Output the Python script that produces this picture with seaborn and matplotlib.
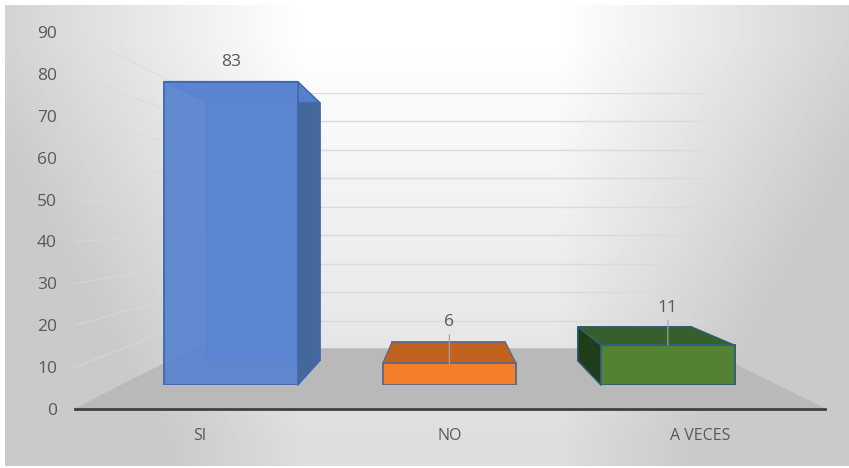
import numpy as np
import pandas as pd
import matplotlib
matplotlib.use("Agg")
import matplotlib.pyplot as plt
import seaborn as sns
from matplotlib.patches import Polygon
from matplotlib.transforms import IdentityTransform

respuestas = ["SI", "NO", "A VECES"]
valores = [83, 6, 11]
ticks_y = [0, 10, 20, 30, 40, 50, 60, 70, 80, 90]

colores_frente = ["#5b85d0", "#f37f2d", "#548235"]
colores_arriba = ["#5580ca", "#c2621f", "#375f2b"]
colores_lado = ["#44679c", "#a3521a", "#1f3d18"]
colores_borde = ["#4169b0", "#5f6a85", "#2f5f78"]
opacidad = [0.95, 1, 1]

W, H = 849, 468
VX, VY = 445, 222
L, R, T, B = 75, 825, 32, 409
ESC_PARED = 0.679
ESC_FRENTE = 0.874
ESC_FONDO = ESC_FRENTE * 0.85
TEXTO = "#595959"

sns.set_style("white")
plt.rcParams["font.family"] = ["Open Sans", "DejaVu Sans"]

df = pd.DataFrame({"respuesta": respuestas, "valor": valores})
fig = plt.figure(figsize=(W / 100, H / 100), dpi=100)
fig.patch.set_facecolor("white")


def plano(escala, zorder):
    # same axes, scaled towards the vanishing point of the 3D view
    l = VX + escala * (L - VX)
    r = VX + escala * (R - VX)
    t = VY + escala * (T - VY)
    b = VY + escala * (B - VY)
    ax = fig.add_axes([l / W, 1 - b / H, (r - l) / W, (b - t) / H], zorder=zorder)
    ax.patch.set_visible(False)
    return ax


def ajustar(ax):
    ax.set_xlim(-0.5, 2.5)
    ax.set_ylim(0, 90)
    ax.set_xlabel("")
    ax.set_ylabel("")


def cara(puntos, color, zorder, borde=None):
    fig.add_artist(Polygon(puntos, closed=True, facecolor=color, edgecolor=borde or color,
                           linewidth=1, transform=IdentityTransform(), zorder=zorder))


# background gradient
fondo = fig.add_axes([5 / W, 2 / H, (W - 5) / W, (H - 7) / H], zorder=0)
xx, yy = np.meshgrid(np.arange(5, W), np.arange(5, 466))
dx = np.abs(xx - 430) / 420
gris = 1 - 0.17 * np.clip((dx - 0.3) / 0.7, 0, 1) - 0.13 * np.clip((yy - 40) / 400, 0, 1)
fondo.imshow(np.maximum(gris, 0.79), cmap="gray", vmin=0, vmax=1, aspect="auto")
fondo.axis("off")

# back wall with gridlines
pared = plano(ESC_PARED, 1)
ajustar(pared)
pared.set_yticks(ticks_y)
pared.set_xticks([])
pared.tick_params(left=False, labelleft=False)
pared.grid(axis="y", color="#dadada", linewidth=1)
sns.despine(ax=pared, left=True, bottom=True)

# main axes, the plane of the tick labels
ax = plano(1, 8)
sns.barplot(data=df, x="respuesta", y="valor", color="white", alpha=0, width=0.61, ax=ax)
ajustar(ax)
ax.set_yticks(ticks_y)
ax.tick_params(axis="both", length=0, labelsize=12.5, labelcolor=TEXTO)
ax.tick_params(axis="y", pad=13)
ax.tick_params(axis="x", pad=13.5, labelsize=11.5)
sns.despine(ax=ax, left=True)
ax.spines["bottom"].set_color("#404040")
ax.spines["bottom"].set_linewidth(2)

fig.canvas.draw()

# left wall lines and floor
for t in ticks_y[1:]:
    p0 = ax.transData.transform((-0.5, t))
    p1 = pared.transData.transform((-0.5, t))
    fig.add_artist(plt.Line2D([p0[0], p1[0]], [p0[1], p1[1]], color="#dadada", linewidth=1, alpha=0.6,
                              transform=IdentityTransform(), zorder=1.5))

suelo = [ax.transData.transform((-0.5, 0)), ax.transData.transform((2.5, 0)),
         pared.transData.transform((2.5, 0)), pared.transData.transform((-0.5, 0))]
cara(suelo, "#b9b9b9", 2)

# back faces of the bars
atras = plano(ESC_FONDO, 3)
sns.barplot(data=df, x="respuesta", y="valor", hue="respuesta", palette=colores_frente, saturation=1,
            width=0.61, legend=False, ax=atras)
ajustar(atras)
atras.axis("off")

# front faces of the bars
frente = plano(ESC_FRENTE, 6)
sns.barplot(data=df, x="respuesta", y="valor", hue="respuesta", palette=colores_frente, saturation=1,
            width=0.61, legend=False, ax=frente)
ajustar(frente)
frente.axis("off")

fig.canvas.draw()

for i, barra in enumerate(frente.patches[:3]):
    barra.set_edgecolor(colores_borde[i])
    barra.set_linewidth(1.4)
    barra.set_alpha(opacidad[i])
    atras.patches[i].set_edgecolor(colores_borde[i])
    atras.patches[i].set_linewidth(1.2)
    x0, x1, h = barra.get_x(), barra.get_x() + barra.get_width(), barra.get_height()

    f = frente.transData.transform
    a = atras.transData.transform
    cara([f((x0, h)), f((x1, h)), a((x1, h)), a((x0, h))], colores_arriba[i], 4.5, colores_borde[i])
    # only the side facing the vanishing point shows
    if f((x1, 0))[0] < VX:
        cara([f((x1, 0)), f((x1, h)), a((x1, h)), a((x1, 0))], colores_lado[i], 4, colores_borde[i])
    elif f((x0, 0))[0] > VX:
        cara([f((x0, 0)), f((x0, h)), a((x0, h)), a((x0, 0))], colores_lado[i], 4, colores_borde[i])

# value labels, with leader lines on the short bars
desplazamiento = [14, 30, 27]
for i, v in enumerate(valores):
    flecha = dict(arrowstyle="-", color="#a6a6a6", lw=0.8, shrinkA=1, shrinkB=0) if v < 20 else None
    frente.annotate(str(v), xy=(i, v), xytext=(0, desplazamiento[i]), textcoords="offset points",
                    ha="center", va="center", fontsize=12.5, color=TEXTO, arrowprops=flecha,
                    annotation_clip=False)

fig.savefig("out.png", dpi=100)
